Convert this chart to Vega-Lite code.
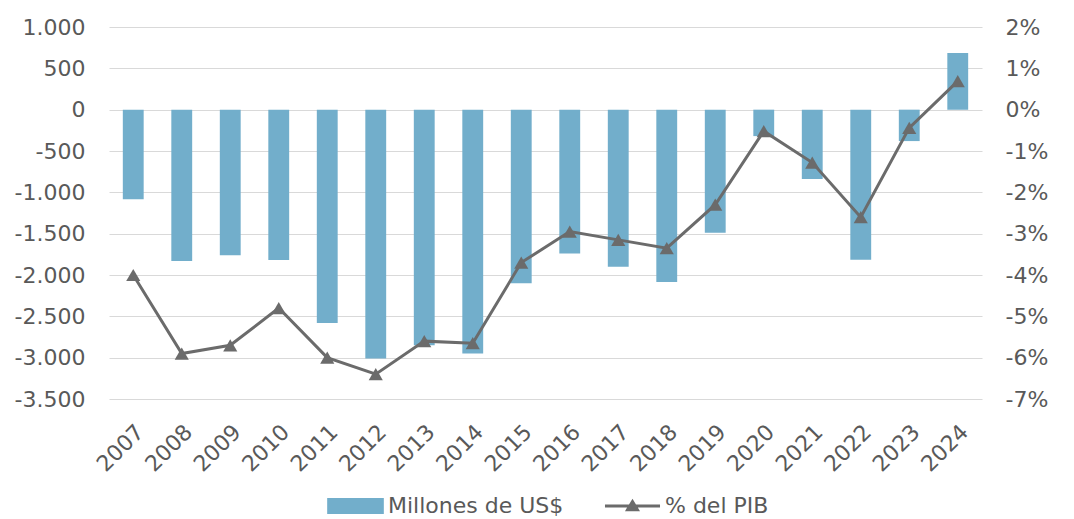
{
  "$schema": "https://vega.github.io/schema/vega-lite/v6.json",
  "width": 873,
  "height": 372,
  "autosize": "none",
  "padding": {"left": 109, "top": 27, "right": 92, "bottom": 120},
  "background": "white",
  "config": {
    "view": {"stroke": null},
    "font": "DejaVu Sans",
    "axis": {"labelColor": "#595959", "labelFontSize": 22, "domain": false, "ticks": false, "title": null}
  },
  "data": {
    "values": [
      {"year": "2007", "usd": -1085, "pib": -4.0},
      {"year": "2008", "usd": -1830, "pib": -5.9},
      {"year": "2009", "usd": -1760, "pib": -5.7},
      {"year": "2010", "usd": -1820, "pib": -4.8},
      {"year": "2011", "usd": -2580, "pib": -6.0},
      {"year": "2012", "usd": -3010, "pib": -6.4},
      {"year": "2013", "usd": -2850, "pib": -5.6},
      {"year": "2014", "usd": -2950, "pib": -5.65},
      {"year": "2015", "usd": -2100, "pib": -3.7},
      {"year": "2016", "usd": -1740, "pib": -2.95},
      {"year": "2017", "usd": -1900, "pib": -3.15},
      {"year": "2018", "usd": -2085, "pib": -3.35},
      {"year": "2019", "usd": -1490, "pib": -2.3},
      {"year": "2020", "usd": -320, "pib": -0.52},
      {"year": "2021", "usd": -840, "pib": -1.28},
      {"year": "2022", "usd": -1815, "pib": -2.6},
      {"year": "2023", "usd": -380, "pib": -0.44},
      {"year": "2024", "usd": 685, "pib": 0.69}
    ]
  },
  "encoding": {
    "x": {
      "field": "year",
      "type": "ordinal",
      "scale": {"paddingInner": 0.57, "paddingOuter": 0.285},
      "axis": {"labelAngle": -45, "labelPadding": 22}
    },
    "color": {
      "type": "nominal",
      "scale": {"domain": ["Millones de US$", "% del PIB"], "range": ["#72aecb", "#6b6b6b"]},
      "legend": {
        "orient": "none",
        "legendX": 235.5,
        "legendY": 468,
        "direction": "horizontal",
        "title": null,
        "labelFontSize": 22,
        "labelLimit": 400,
        "labelColor": "#595959",
        "symbolSize": 262,
        "labelOffset": 21.5,
        "columnPadding": 35,
        "encode": {
          "symbols": {
            "update": {
              "shape": {"signal": "datum.value === 'Millones de US$' ? 'M-3.5,-1H3.5V1H-3.5Z' : 'M-3.4,0H3.4M-0.6,0.45L0,-0.55L0.6,0.45Z'"},
              "fill": {"signal": "datum.value === 'Millones de US$' ? '#72aecb' : '#6b6b6b'"},
              "stroke": {"signal": "datum.value === 'Millones de US$' ? '#72aecb' : '#6b6b6b'"},
              "strokeWidth": {"signal": "datum.value === 'Millones de US$' ? 0 : 3"},
              "opacity": {"value": 1}
            }
          }
        }
      }
    }
  },
  "layer": [
    {
      "mark": {"type": "bar"},
      "encoding": {
        "color": {"datum": "Millones de US$"},
        "y": {
          "field": "usd",
          "type": "quantitative",
          "scale": {"domain": [-3500, 1000], "nice": false, "zero": false},
          "axis": {
            "values": [1000, 500, 0, -500, -1000, -1500, -2000, -2500, -3000, -3500],
            "labelExpr": "(datum.value < 0 ? '-' : '') + replace(format(abs(datum.value), ','), ',', '.')",
            "grid": true,
            "gridColor": "#d9d9d9",
            "gridWidth": 1,
            "labelPadding": 24
          }
        }
      }
    },
    {
      "encoding": {
        "y": {
          "field": "pib",
          "type": "quantitative",
          "scale": {"domain": [-7, 2], "nice": false, "zero": false},
          "axis": {
            "orient": "right",
            "values": [2, 1, 0, -1, -2, -3, -4, -5, -6, -7],
            "labelExpr": "datum.value + '%'",
            "grid": false,
            "labelPadding": 23
          }
        },
        "color": {"datum": "% del PIB"}
      },
      "layer": [
        {"mark": {"type": "line", "strokeWidth": 3}},
        {"mark": {"type": "point", "shape": "triangle-up", "filled": true, "size": 200, "opacity": 1}}
      ]
    }
  ],
  "resolve": {"scale": {"y": "independent"}}
}
